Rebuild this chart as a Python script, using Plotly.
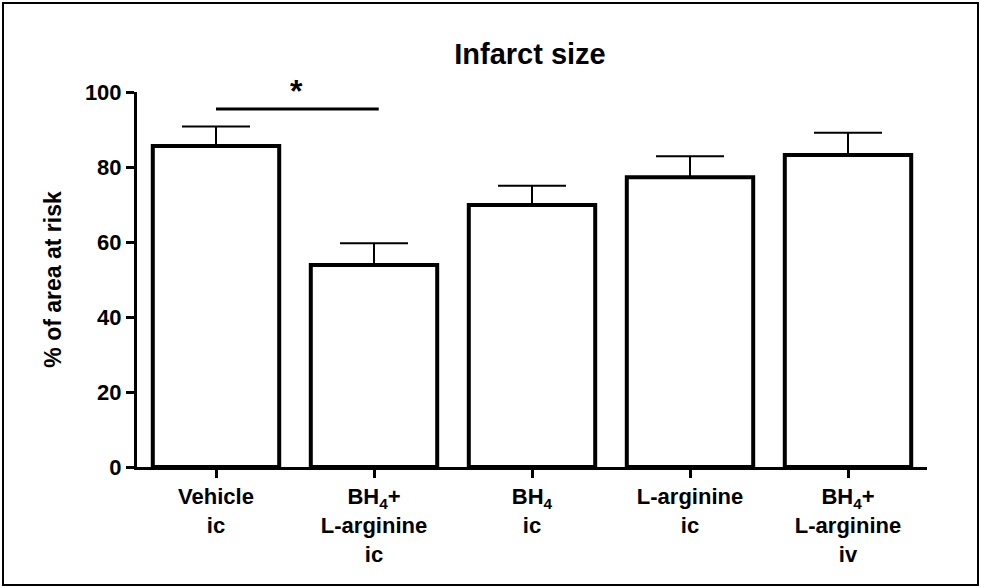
import plotly.graph_objects as go

categories = [
    "Vehicle<br>ic",
    "BH<sub>4</sub>+<br>L-arginine<br>ic",
    "BH<sub>4</sub><br>ic",
    "L-arginine<br>ic",
    "BH<sub>4</sub>+<br>L-arginine<br>iv",
]
means = [85.6, 53.9, 69.9, 77.3, 83.2]
sem = [5.2, 5.8, 5.1, 5.6, 5.9]
y_ticks = [0, 20, 40, 60, 80, 100]
sig_y = 95.5

W, H = 981, 588
L, R, T, B = 137, 54, 92, 121
pw = W - L - R
ph = H - T - B

fig = go.Figure()
fig.add_trace(go.Bar(
    x=list(range(len(categories))),
    y=means,
    width=0.8,
    marker=dict(color="white", line=dict(color="black", width=4)),
    error_y=dict(type="data", array=sem, arrayminus=[0] * len(sem), symmetric=False,
                 color="black", thickness=2, width=34),
))

font_family = "Liberation Sans, Arial, sans-serif"

fig.update_layout(
    width=W, height=H,
    margin=dict(l=L, r=R, t=T, b=B),
    paper_bgcolor="white", plot_bgcolor="white",
    showlegend=False,
    title=dict(text="Infarct size", x=(530 - L) / pw, xref="paper", xanchor="center",
               y=1 - 54 / H, yanchor="middle",
               font=dict(family=font_family, size=29, color="black", weight="bold")),
    xaxis=dict(
        range=[-0.5, 4.5], tickmode="array", tickvals=list(range(len(categories))),
        ticktext=categories, showline=True, linecolor="black", linewidth=3,
        ticks="outside", ticklen=8, tickwidth=3, tickcolor="black",
        showgrid=False, zeroline=False,
        tickfont=dict(family=font_family, size=22, color="black", weight="bold"),
    ),
    yaxis=dict(
        range=[0, 100], tickvals=y_ticks, showline=True, linecolor="black", linewidth=3,
        ticks="outside", ticklen=8, tickwidth=3, tickcolor="black",
        showgrid=False, zeroline=False,
        tickfont=dict(family=font_family, size=22, color="black", weight="bold"),
        title=dict(text="% of area at risk", standoff=17,
                   font=dict(family=font_family, size=23, color="black", weight="bold")),
    ),
)

# significance bar and star
fig.add_shape(type="line", xref="x", yref="y", x0=0.0, x1=1.03, y0=sig_y, y1=sig_y,
              line=dict(color="black", width=3))
fig.add_annotation(x=0.51, y=sig_y, xref="x", yref="y", text="<b>*</b>", showarrow=False,
                   yanchor="bottom", yshift=-2,
                   font=dict(family=font_family, size=32, color="black"))

# outer frame
fig.add_shape(type="rect", xref="paper", yref="paper",
              x0=(3 - L) / pw, x1=(W - 3 - L) / pw,
              y0=-(H - 3 - T - ph) / ph, y1=1 + (T - 3) / ph,
              line=dict(color="black", width=2), fillcolor="rgba(0,0,0,0)", layer="below")

fig.write_html("out.html")
